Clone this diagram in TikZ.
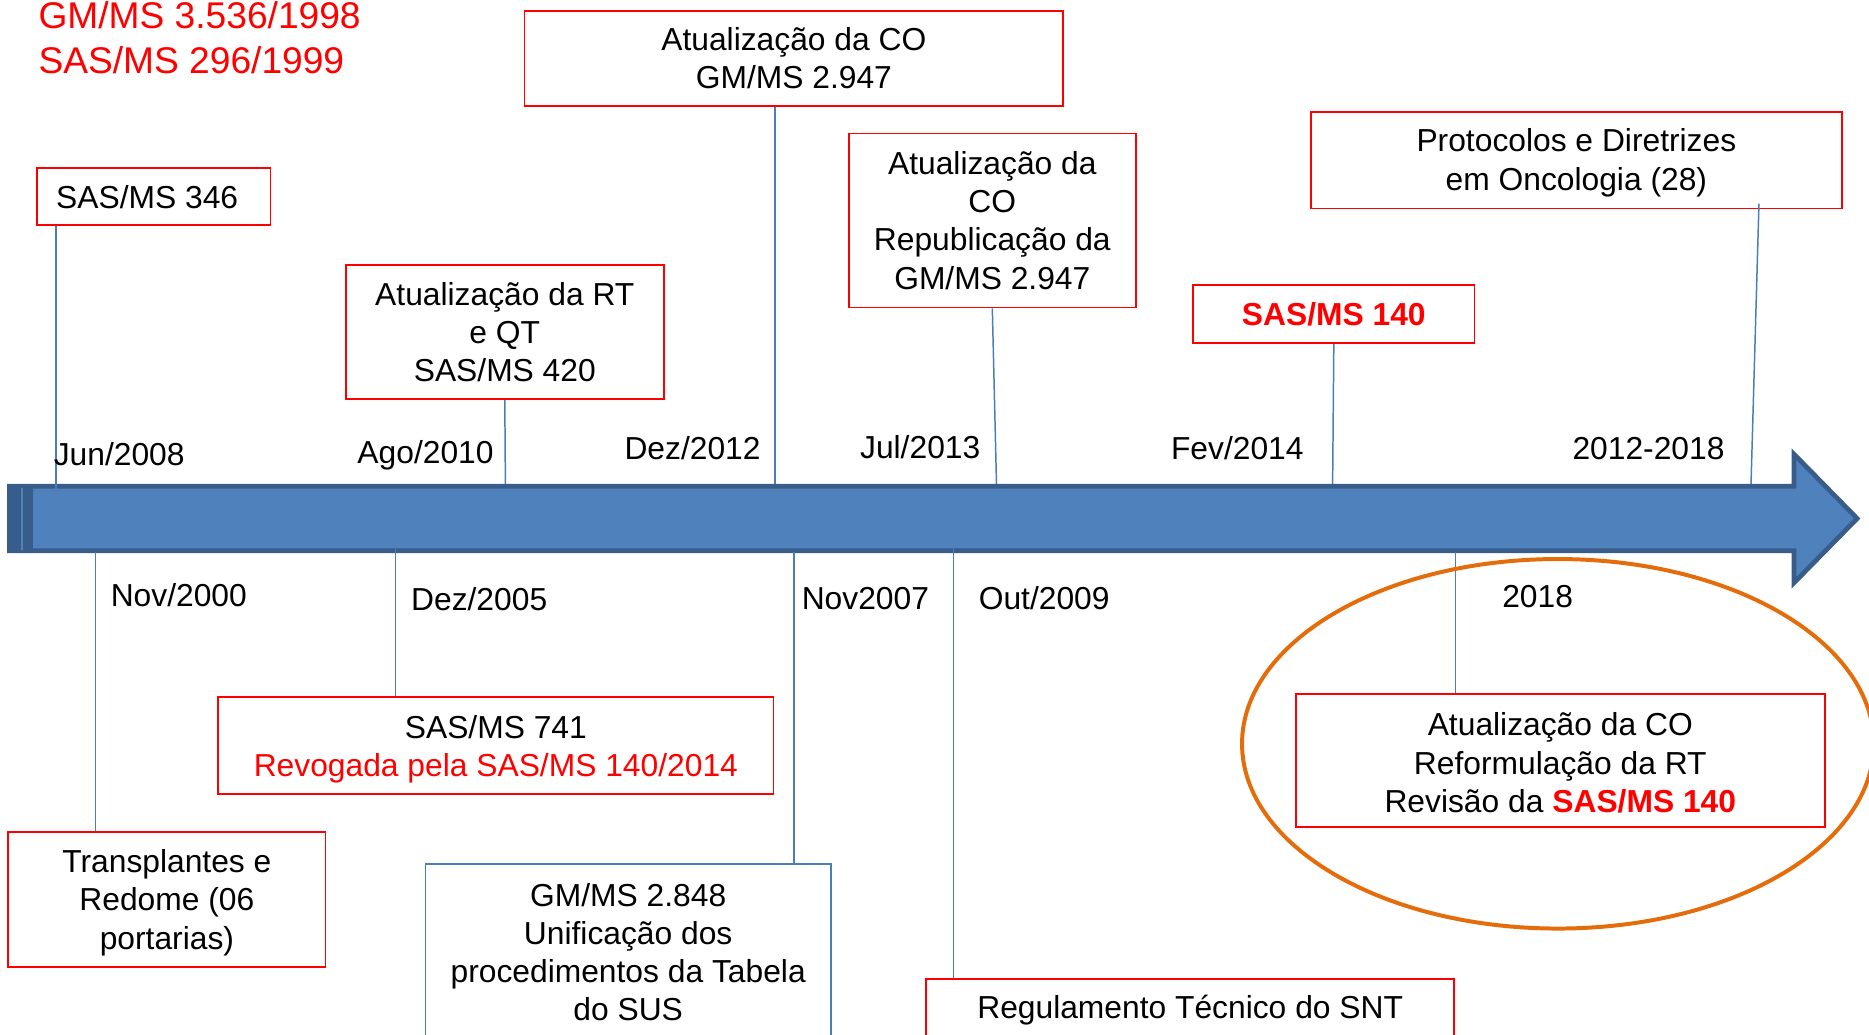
\documentclass[tikz,border=0pt]{standalone}
\usepackage{fontspec}
\setmainfont{Liberation Sans}
\usepackage{tikz}
\definecolor{arrfill}{HTML}{4F81BD}
\definecolor{arredge}{HTML}{385D8A}
\definecolor{ticol}{HTML}{4A7EBB}
\definecolor{ovcol}{HTML}{E46C0A}
% box from corner (x1,y1) to (x2,y2)
\newcommand{\evbox}[7][box]{\node[#1, minimum width={(#5-#3)*0.6pt}, minimum height={(#6-#4)*0.6pt}] (#2) at ({(#3+#5)/2},{(#4+#6)/2}) {#7};}
\newcommand{\dt}[4]{\node[anchor=base] (#1) at (#2,#3) {#4};}

\begin{document}
\begin{tikzpicture}[x=0.6pt,y=-0.6pt,
  every node/.style={font=\fontsize{16}{19.2}\selectfont, inner sep=0pt},
  box/.style={draw=red, line width=0.9pt, align=center},
  bluebox/.style={draw=ticol, line width=0.9pt, align=center},
  tick/.style={draw=ticol, line width=0.75pt}]
\useasboundingbox (0,0) rectangle (1568,868);
\clip (0,0) rectangle (1568,868);
% timeline
\draw[fill=arrfill, draw=arredge, line width=2.4pt, line join=miter]
  (8,408) -- (1505,408) -- (1505,381) -- (1558,435) -- (1505,489) -- (1505,462) -- (8,462) -- cycle;
\fill[arredge] (8,407) rectangle (28,463);
\draw[arrfill, line width=0.8pt] (18.5,409) -- (18.5,461);
\foreach \x [count=\i] in {47,424,650,836,1118,1469}
  \coordinate (up\i) at (\x,406);
\foreach \x [count=\i] in {80,332,666,800,1221}
  \coordinate (dn\i) at (\x,463);

\node[anchor=north west, align=left, text=red, font=\fontsize{18.7}{22.8}\selectfont] (title) at (32,1)
  {GM/MS 3.536/1998\\SAS/MS 296/1999};

% above
\evbox{b1}{31}{141}{227}{189}{SAS/MS 346\hspace*{6.6pt}}
\evbox{b2}{290}{222}{557}{335}{Atualização da RT\\e QT\\SAS/MS 420}
\evbox{b3}{440}{9}{892}{89}{Atualização da CO\\GM/MS 2.947}
\evbox{b4}{712}{112}{953}{258}{Atualização da\\CO\\Republicação da\\GM/MS 2.947}
\evbox{b5}{1001}{239}{1237}{288}{\textbf{\textcolor{red}{SAS/MS 140}}}
\evbox{b6}{1100}{94}{1545}{175}{\rule{0pt}{14pt}Protocolos e Diretrizes\\em Oncologia (28)}
\draw[tick] (b1.south -| up1) -- ([yshift=-3]up1);
\draw[tick] (b2.south) -- (up2);
\draw[tick] (b3.south -| up3) -- (up3);
\draw[tick] (b4.south) -- (up4);
\draw[tick] (b5.south) -- (up5);
\draw[tick] ([xshift=4,yshift=3]b6.south -| up6) -- (up6);
\dt{jun08}{100}{390.5}{Jun/2008}
\dt{ago10}{357}{388.5}{Ago/2010}
\dt{dez12}{581}{385.5}{Dez/2012}
\dt{jul13}{772}{384.5}{Jul/2013}
\dt{fev14}{1038}{385.5}{Fev/2014}
\dt{per18}{1383}{385.5}{2012-2018}

% below
\evbox{c1}{7}{698}{273}{811}{\rule{0pt}{15pt}Transplantes e\\Redome (06\\portarias)}
\evbox{c2}{183}{585}{649}{666}{\rule{0pt}{15pt}SAS/MS 741\\\textcolor{red}{Revogada pela SAS/MS 140/2014}}
\evbox[bluebox]{c3}{357}{725}{697}{873}{GM/MS 2.848\\Unificação dos\\procedimentos da Tabela\\do SUS}
\evbox{c4}{777}{821}{1220}{873}{Regulamento Técnico do SNT}
\evbox{c5}{1087}{582}{1531}{694}{\rule{0pt}{14pt}Atualização da CO\\Reformulação da RT\\Revisão da \textcolor{red}{\textbf{SAS/MS 140}}}
\draw[tick] (dn1) -- (c1.north -| dn1);
\draw[tick] ([yshift=3]dn2) -- (c2.north -| dn2);
\draw[tick] (dn3) -- (c3.north -| dn3);
\draw[tick] ([yshift=3]dn4) -- (c4.north -| dn4);
\draw[tick] (dn5) -- (c5.north -| dn5);
\dt{nov00}{150}{508.5}{Nov/2000}
\dt{dez05}{402}{512.5}{Dez/2005}
\dt{nov07}{726}{511.5}{Nov2007}
\dt{out09}{876}{511.5}{Out/2009}
\dt{y18}{1290}{509.5}{2018}

\draw[ovcol, line width=2pt] (1307,624) ellipse [x radius=265, y radius=155];
\end{tikzpicture}
\end{document}
